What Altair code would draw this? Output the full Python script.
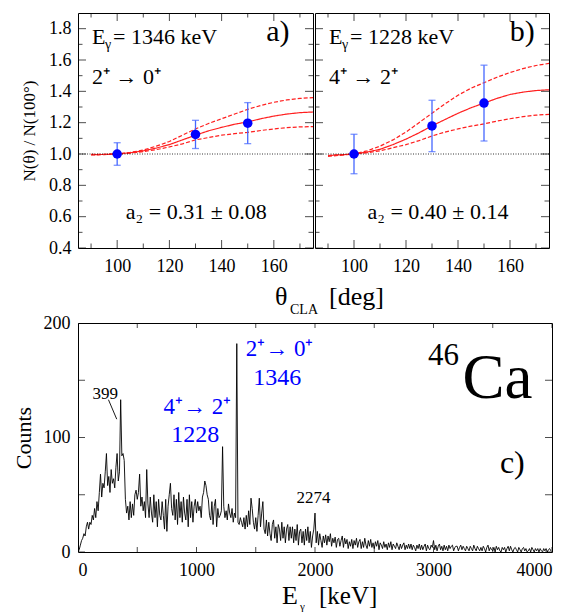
import pandas as pd
import altair as alt

FONT = "Liberation Serif"
RED = "#ff1f1f"
BLUE = "#0000ff"
BAR_BLUE = "#4466ff"

# --- angular distributions, panels a) and b) ---
theta = [90, 95, 100, 105, 110, 115, 120, 125, 130, 135, 140, 145, 150, 155, 160, 165, 170, 175]
fit_a = [0.996, 0.997, 1.0, 1.008, 1.02, 1.038, 1.06, 1.09, 1.12, 1.148, 1.17, 1.19, 1.205, 1.225, 1.242, 1.255, 1.264, 1.268]
hi_a = [0.994, 0.996, 1.0, 1.01, 1.025, 1.05, 1.08, 1.12, 1.16, 1.195, 1.225, 1.255, 1.285, 1.31, 1.33, 1.345, 1.355, 1.36]
lo_a = [0.997, 0.998, 1.0, 1.006, 1.015, 1.028, 1.045, 1.065, 1.09, 1.105, 1.12, 1.13, 1.138, 1.15, 1.16, 1.168, 1.173, 1.175]
fit_b = [0.99, 0.995, 1.0, 1.012, 1.03, 1.06, 1.095, 1.135, 1.18, 1.22, 1.26, 1.295, 1.325, 1.355, 1.38, 1.395, 1.405, 1.41]
hi_b = [0.985, 0.992, 1.0, 1.02, 1.05, 1.09, 1.14, 1.2, 1.26, 1.32, 1.375, 1.42, 1.455, 1.49, 1.52, 1.545, 1.565, 1.578]
lo_b = [0.99, 0.995, 1.0, 1.008, 1.02, 1.04, 1.06, 1.085, 1.115, 1.14, 1.16, 1.178, 1.192, 1.21, 1.225, 1.238, 1.248, 1.253]

pt_theta = [100, 130, 150]
ratio_a = [1.0, 1.125, 1.197]
err_a = [0.072, 0.09, 0.131]
ratio_b = [1.0, 1.179, 1.325]
err_b = [0.126, 0.164, 0.242]

x_major = [100, 120, 140, 160]
x_minor = [90, 110, 130, 150, 170]
y_major = [0.4, 0.6, 0.8, 1.0, 1.2, 1.4, 1.6, 1.8]
y_minor = [0.5, 0.7, 0.9, 1.1, 1.3, 1.5, 1.7]

# --- gamma spectrum, panel c), 10 keV bins ---
counts = [
    0, 2, 6, 10, 12, 16, 14, 22, 26, 20,
    26, 24, 32, 28, 38, 30, 44, 36, 52, 68,
    48, 60, 56, 70, 86, 58, 66, 52, 72, 60,
    64, 56, 74, 86, 62, 70, 133, 84, 86, 80,
    46, 34, 40, 28, 44, 30, 42, 32, 50, 54,
    46, 52, 68, 40, 48, 36, 44, 30, 72, 42,
    30, 48, 34, 26, 50, 30, 44, 22, 46, 32,
    28, 44, 32, 20, 46, 18, 40, 50, 60, 38,
    32, 50, 28, 46, 24, 52, 30, 44, 26, 48,
    34, 28, 46, 22, 50, 30, 44, 26, 40, 46,
    34, 44, 36, 40, 30, 48, 52, 62, 58, 50,
    46, 32, 28, 44, 24, 40, 46, 22, 38, 30,
    32, 36, 92, 40, 30, 36, 28, 42, 34, 30,
    38, 26, 34, 30, 182, 26, 24, 30, 26, 22,
    30, 20, 32, 22, 36, 24, 47, 38, 26, 20,
    30, 18, 32, 47, 22, 34, 44, 20, 16, 28,
    14, 26, 16, 10, 24, 28, 12, 22, 8, 24,
    20, 10, 26, 12, 22, 8, 20, 24, 10, 22,
    12, 22, 8, 20, 10, 24, 6, 18, 20, 8,
    18, 6, 20, 10, 22, 8, 18, 4, 14, 20,
    34, 8, 18, 6, 16, 10, 4, 14, 8, 15,
    6, 14, 9, 16, 5, 12, 8, 13, 4, 11,
    12, 5, 10, 14, 4, 12, 7, 11, 3, 9,
    5, 11, 3, 10, 6, 12, 4, 9, 11, 3,
    9, 4, 12, 6, 3, 10, 5, 11, 4, 8,
    3, 9, 5, 10, 2, 8, 6, 3, 9, 4,
    7, 2, 8, 4, 9, 2, 7, 5, 3, 8,
    5, 2, 7, 3, 6, 8, 2, 6, 3, 7,
    3, 7, 2, 6, 4, 1, 6, 3, 7, 2,
    6, 2, 5, 7, 1, 6, 3, 2, 6, 4,
    10, 2, 6, 1, 5, 7, 2, 5, 1, 6,
    2, 5, 1, 6, 3, 5, 6, 1, 4, 5,
    5, 1, 4, 6, 2, 5, 3, 1, 5, 3,
    1, 5, 3, 1, 6, 3, 1, 5, 3, 1,
    4, 1, 5, 3, 0, 4, 6, 1, 4, 2,
    1, 4, 0, 5, 2, 4, 1, 0, 4, 2,
    4, 0, 3, 5, 1, 5, 2, 0, 3, 4,
    2, 0, 4, 2, 0, 3, 4, 1, 3, 0,
    1, 3, 0, 4, 2, 0, 3, 1, 3, 0,
    3, 1, 0, 3, 1, 3, 0, 2, 3, 1,
]
bin_kev = 10
energy = [bin_kev * i for i in range(len(counts))]

e_major = [0, 1000, 2000, 3000, 4000]
e_minor = [500, 1500, 2500, 3500]
c_major = [0, 100, 200]
c_minor = [50, 150]

W_A, W_B, H_TOP = 235, 234, 235
W_C, H_C = 474, 229


class Frame:
    """Scales and axes shared by every layer of one panel."""

    def __init__(self, xf, yf, xs, ys, xa, ya):
        self.xf, self.yf, self.xs, self.ys, self.xa, self.ya = xf, yf, xs, ys, xa, ya

    def x(self, field=None):
        return alt.X(f"{field or self.xf}:Q", scale=self.xs, axis=self.xa)

    def y(self, field=None):
        return alt.Y(f"{field or self.yf}:Q", scale=self.ys, axis=self.ya)


def note(fr, xv, yv, text, size, color="black", align="left", dx=0, dy=0):
    df = pd.DataFrame({fr.xf: [xv], fr.yf: [yv], "label": [text]})
    return alt.Chart(df).mark_text(
        font=FONT, fontSize=size, color=color, align=align, baseline="alphabetic", dx=dx, dy=dy
    ).encode(x=fr.x(), y=fr.y(), text="label:N")


def pix(px, py, text, size):
    return alt.Chart(pd.DataFrame({"label": [text]})).mark_text(
        font=FONT, fontSize=size, align="left", baseline="alphabetic", color="black"
    ).encode(x=alt.value(px), y=alt.value(py), text="label:N")


def edge_ticks(fr, vals, edge, along, size):
    # inward ticks: centred on the frame, the outer half is clipped away
    if along == "x":
        df = pd.DataFrame({fr.xf: vals, fr.yf: [edge] * len(vals)})
        orient = "vertical"
    else:
        df = pd.DataFrame({fr.xf: [edge] * len(vals), fr.yf: vals})
        orient = "horizontal"
    return alt.Chart(df).mark_tick(
        orient=orient, size=size, thickness=1, color="black", clip=True
    ).encode(x=fr.x(), y=fr.y())


def angle_panel(fit, hi, lo, ratio, err, width, left, e_text, trans, a2_text, tag, tag_x, a2_x):
    xs = alt.Scale(domain=[85, 175], nice=False, zero=False)
    ys = alt.Scale(domain=[0.4, 1.9], nice=False, zero=False)
    x_ax = alt.Axis(values=x_major, labelFontSize=18, labelPadding=9, title=None)
    if left:
        y_ax = alt.Axis(values=y_major, format=".1f", labelFontSize=18, labelPadding=7,
                        title="N(θ) / N(100°)", titleFontSize=17, titlePadding=10)
    else:
        y_ax = None
    fr = Frame("theta", "ratio", xs, ys, x_ax, y_ax)

    n = len(theta)
    curves = pd.DataFrame({
        "theta": theta * 3,
        "ratio": fit + hi + lo,
        "curve": ["fit"] * n + ["upper"] * n + ["lower"] * n,
    })
    lines = alt.Chart(curves).mark_line(color=RED, strokeWidth=1.2, clip=True).encode(
        x=fr.x(), y=fr.y(),
        detail="curve:N",
        strokeDash=alt.StrokeDash("curve:N", legend=None, scale=alt.Scale(
            domain=["fit", "upper", "lower"], range=[[1, 0], [4, 2], [4, 2]])),
    )
    unity = alt.Chart(pd.DataFrame({"ratio": [1.0]})).mark_rule(
        color="black", strokeWidth=0.8, strokeDash=[1, 1.5]
    ).encode(y=fr.y())

    pts = pd.DataFrame({
        "theta": pt_theta,
        "ratio": ratio,
        "lo": [r - e for r, e in zip(ratio, err)],
        "hi": [r + e for r, e in zip(ratio, err)],
    })
    bars = alt.Chart(pts).mark_rule(color=BAR_BLUE, strokeWidth=1.3).encode(
        x=fr.x(), y=fr.y("lo"), y2="hi:Q",
    )
    caps = alt.Chart(pd.DataFrame({
        "theta": pt_theta * 2,
        "ratio": list(pts["lo"]) + list(pts["hi"]),
    })).mark_tick(orient="horizontal", size=7, thickness=1.3, color=BAR_BLUE).encode(
        x=fr.x(), y=fr.y(),
    )
    dots = alt.Chart(pts).mark_circle(size=90, color=BLUE, opacity=1).encode(
        x=fr.x(), y=fr.y(),
    )

    texts = [
        note(fr, 90.4, 1.70, "E", 22),
        note(fr, 90.4, 1.70, "γ", 14, dx=13, dy=5),
        note(fr, 90.4, 1.70, "= " + e_text + " keV", 22, dx=21),
        note(fr, 90.4, 1.449, trans, 22),
        note(fr, tag_x, 1.72, tag, 30, align="right"),
        note(fr, a2_x, 0.583, a2_text, 22, align="center"),
    ]
    ticks = [
        edge_ticks(fr, x_major, 0.4, "x", 16),
        edge_ticks(fr, x_minor, 0.4, "x", 9),
        edge_ticks(fr, x_major, 1.9, "x", 16),
        edge_ticks(fr, x_minor, 1.9, "x", 9),
        edge_ticks(fr, y_major, 85, "y", 16),
        edge_ticks(fr, y_minor, 85, "y", 9),
        edge_ticks(fr, y_major, 175, "y", 16),
        edge_ticks(fr, y_minor, 175, "y", 9),
    ]
    return alt.layer(lines, unity, bars, caps, dots, *texts, *ticks).properties(width=width, height=H_TOP)


panel_a = angle_panel(fit_a, hi_a, lo_a, ratio_a, err_a, W_A, True,
                      "1346", "2⁺ → 0⁺", "a₂ = 0.31 ± 0.08", "a)", 166, 130.3)
panel_b = angle_panel(fit_b, hi_b, lo_b, ratio_b, err_b, W_B, False,
                      "1228", "4⁺ → 2⁺", "a₂ = 0.40 ± 0.14", "b)", 169.5, 132.3)

# --- spectrum panel ---
xs_c = alt.Scale(domain=[0, 4000], nice=False, zero=False)
ys_c = alt.Scale(domain=[0, 200], nice=False, zero=False)
fc = Frame(
    "energy", "counts", xs_c, ys_c,
    alt.Axis(values=e_major, format="d", labelFontSize=18, labelPadding=9, title=None),
    alt.Axis(values=c_major, format="d", labelFontSize=18, labelPadding=8,
             title="Counts", titleFontSize=22, titlePadding=8),
)
spec = pd.DataFrame({"energy": energy, "counts": counts})
spectrum = alt.Chart(spec).mark_line(color="black", strokeWidth=0.9, clip=True).encode(
    x=fc.x(), y=fc.y(),
)
leader = alt.Chart(pd.DataFrame({"energy": [257], "counts": [133], "e2": [327], "c2": [116]})).mark_rule(
    color="black", strokeWidth=0.9
).encode(x=fc.x(), y=fc.y(), x2="e2:Q", y2="c2:Q")
spec_notes = [
    note(fc, 229, 134, "399", 17, align="center"),
    note(fc, 1008, 120.6, "4⁺→ 2⁺", 23, color=BLUE, align="center"),
    note(fc, 990, 96.5, "1228", 24, color=BLUE, align="center"),
    note(fc, 1701, 171.5, "2⁺→ 0⁺", 23, color=BLUE, align="center"),
    note(fc, 1681, 146, "1346", 24, color=BLUE, align="center"),
    note(fc, 1987, 43, "2274", 17, align="center"),
    note(fc, 3084, 163, "46", 31, align="center"),
    note(fc, 3244, 134.5, "Ca", 63),
    note(fc, 3665, 69, "c)", 32, align="center"),
]
spec_ticks = [
    edge_ticks(fc, e_major + e_minor, 0, "x", 10),
    edge_ticks(fc, e_major + e_minor, 200, "x", 10),
    edge_ticks(fc, c_major + c_minor, 0, "y", 14),
    edge_ticks(fc, c_major + c_minor, 4000, "y", 14),
]
titles = [
    # x title of the two upper panels, drawn just above this panel
    pix(197, -18, "θ", 26), pix(212, -9, "CLA", 14), pix(251, -18, "[deg]", 26),
    # x title of this panel
    pix(204, H_C + 52, "E", 26), pix(222, H_C + 58, "γ", 11), pix(241, H_C + 52, "[keV]", 25),
]
panel_c = alt.layer(spectrum, leader, *spec_notes, *spec_ticks, *titles).properties(width=W_C, height=H_C)

top = alt.hconcat(panel_a, panel_b, spacing=0)
chart = alt.vconcat(top, panel_c, spacing=7).properties(
    padding={"left": 3, "top": 4, "right": 4, "bottom": 0}
).configure_view(
    stroke="black", strokeWidth=1
).configure_axis(
    grid=False, ticks=False, domain=False, labelFont=FONT, titleFont=FONT,
    labelColor="black", titleColor="black", titleFontWeight="normal",
).configure_text(font=FONT)

chart.save("out.html", embed_options={"renderer": "svg", "actions": False})
